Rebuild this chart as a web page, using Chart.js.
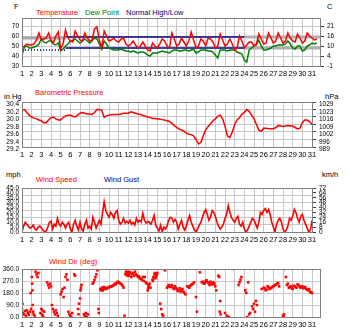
<!DOCTYPE html>
<html>
<head>
<meta charset="utf-8">
<script src="https://cdn.jsdelivr.net/npm/chart.js@4"></script>
<style>
  body { margin: 0; background: #fff; width: 350px; height: 336px; position: relative; overflow: hidden;
         font-family: "Liberation Sans", Arial, sans-serif; }
  canvas { position: absolute; left: 0; }
  .t { position: absolute; font-size: 7.5px; line-height: 8px; white-space: nowrap; }
</style>
</head>
<body>
<div class="t" style="left:14px;top:3px">F</div>
<div class="t" style="left:36px;top:9px;color:#ff0000">Temperature</div>
<div class="t" style="left:85px;top:9px;color:#008000">Dew Point</div>
<div class="t" style="left:126px;top:9px;color:#000080">Normal High/Low</div>
<div class="t" style="left:327px;top:3px">C</div>
<canvas id="temp" width="350" height="80" style="top:0px"></canvas>

<div class="t" style="left:35px;top:89px;color:#ff0000">Barometric Pressure</div>
<div class="t" style="left:4px;top:93px">in Hg</div>
<div class="t" style="left:325px;top:93px">hPa</div>
<canvas id="baro" width="350" height="77" style="top:84px"></canvas>

<div class="t" style="left:6px;top:171px">mph</div>
<div class="t" style="left:36px;top:176px;color:#ff0000">Wind Speed</div>
<div class="t" style="left:104px;top:176px;color:#000080">Wind Gust</div>
<div class="t" style="left:322px;top:171px">km/h</div>
<canvas id="wind" width="350" height="76" style="top:170px"></canvas>

<div class="t" style="left:49px;top:258px;color:#ff0000">Wind Dir (deg)</div>
<canvas id="dir" width="350" height="80" style="top:251px"></canvas>

<script>
const days = [1, 2, 3, 4, 5, 6, 7, 8, 9, 10, 11, 12, 13, 14, 15, 16, 17, 18, 19, 20,
  21, 22, 23, 24, 25, 26, 27, 28, 29, 30, 31];

const tempTicks = [30, 40, 50, 60, 70];
const pressureTicks = [29.2, 29.4, 29.6, 29.8, 30.0, 30.2, 30.4];
const windTicks = [0, 5, 10, 15, 20, 25, 30, 35, 40, 45];
const windGrid = [7.5, 15, 22.5, 30, 37.5];
const dirTicks = [0, 90, 180, 270, 360];

// temperature and dew point, every 6 hours (F)
const tempF = [48, 50, 52, 51, 51, 52, 56, 63, 56, 57, 58, 63, 56, 53, 60, 64, 47, 52, 66, 58,
  55, 54, 65, 60, 56, 55, 63, 58, 55, 56, 67, 69, 56, 48, 65, 60, 55, 56, 58, 55,
  54, 57, 58, 52, 50, 52, 55, 51, 48, 50, 54, 50, 46, 45, 53, 50, 48, 52, 57, 55,
  50, 48, 63, 57, 50, 52, 58, 54, 50, 55, 64, 56, 48, 50, 57, 55, 50, 58, 57, 54,
  48, 50, 62, 56, 50, 52, 57, 52, 46, 48, 60, 55, 48, 51, 54, 54, 50, 52, 62, 57,
  52, 53, 63, 58, 53, 55, 63, 58, 53, 55, 63, 58, 55, 54, 62, 58, 53, 55, 63, 60,
  58, 56, 57];
const dewF = [41, 49, 50, 48, 48, 49, 50, 52, 57, 54, 53, 55, 55, 52, 51, 53, 45, 47, 50, 52,
  55, 55, 57, 55, 53, 55, 57, 55, 53, 55, 58, 57, 52, 47, 55, 52, 48, 47, 46, 46,
  46, 47, 46, 45, 45, 44, 45, 44, 43, 44, 44, 43, 41, 40, 43, 43, 43, 44, 45, 44,
  44, 43, 45, 46, 46, 45, 45, 46, 46, 45, 46, 47, 43, 44, 46, 46, 46, 45, 45, 44,
  41, 38, 46, 46, 46, 45, 46, 46, 46, 44, 43, 42, 36, 34, 46, 48, 50, 51, 56, 50,
  46, 46, 47, 48, 50, 50, 51, 51, 51, 52, 55, 52, 48, 47, 50, 50, 45, 46, 50, 51,
  53, 52, 53];

// normal high/low, piecewise between these days
const normalBreaks = [1, 5.5, 24, 31.93];
const normalHigh = [58, 59, 59];
const normalLow = [46, 48, 48];

// barometer, every 6 hours (in Hg)
const pressureInHg = [30.18, 30.20, 30.12, 30.05, 30.00, 29.97, 29.95, 29.92, 29.90, 29.85, 29.85, 29.92,
  29.98, 30.00, 29.95, 29.92, 29.92, 29.98, 30.03, 30.05, 30.05, 30.02, 30.00, 30.05,
  30.10, 30.12, 30.10, 30.08, 30.08, 30.07, 30.12, 30.20, 30.20, 30.18, 29.99, 30.03,
  30.05, 30.06, 30.07, 30.07, 30.07, 30.08, 30.10, 30.10, 30.10, 30.14, 30.12, 30.10,
  30.08, 30.07, 30.04, 30.02, 30.00, 29.99, 29.96, 29.96, 29.95, 29.95, 29.93, 29.92,
  29.90, 29.88, 29.83, 29.77, 29.72, 29.68, 29.65, 29.62, 29.57, 29.54, 29.53, 29.50,
  29.40, 29.28, 29.32, 29.50, 29.65, 29.75, 29.82, 29.90, 29.95, 30.02, 30.05, 29.95,
  29.75, 29.50, 29.45, 29.60, 29.80, 29.93, 29.98, 30.08, 30.12, 30.20, 30.15, 30.05,
  29.95, 29.80, 29.65, 29.62, 29.70, 29.70, 29.69, 29.69, 29.69, 29.72, 29.77, 29.76,
  29.75, 29.76, 29.77, 29.76, 29.76, 29.72, 29.68, 29.70, 29.85, 29.92, 29.92, 29.88,
  29.80];

// wind speed, every 4 hours (mph)
const windMph = [0, 6, 10, 8, 6, 4, 5, 7, 3, 2, 5, 6, 4, 2, 0, 1, 5, 10, 11, 3, 8, 6, 14, 8,
  6, 10, 8, 4, 8, 10, 3, 0, 8, 12, 6, 2, 10, 3, 1, 8, 12, 4, 6, 3, 15, 10, 4, 8,
  12, 8, 20, 31, 22, 18, 15, 20, 18, 14, 20, 22, 12, 8, 10, 14, 9, 11, 9, 12, 8, 10, 7, 14,
  10, 12, 10, 19, 12, 9, 11, 10, 8, 12, 17, 7, 4, 1, 7, 0, 5, 3, 6, 12, 15, 14, 10, 13,
  10, 3, 8, 12, 5, 2, 6, 12, 17, 10, 6, 2, 0, 3, 7, 10, 15, 20, 23, 18, 12, 15, 22, 20,
  16, 10, 6, 3, 5, 8, 14, 18, 27, 20, 15, 12, 10, 14, 16, 8, 6, 10, 3, 0, 2, 6, 10, 14,
  12, 8, 4, 10, 20, 18, 22, 24, 20, 23, 18, 10, 5, 0, 8, 12, 14, 10, 3, 0, 2, 6, 14, 12,
  16, 23, 20, 14, 10, 16, 18, 12, 8, 4, 0, 2, 12];

// wind direction readings (day, degrees)
const dirDays = [1.0, 1.05, 1.1, 1.2, 1.3, 1.4, 1.5, 1.6, 1.7, 1.8, 1.9, 1.95,
  2.0, 2.02, 2.05, 2.08, 2.1, 2.15, 2.2, 2.3, 2.4, 2.5, 2.6, 2.7,
  2.9, 3.0, 3.05, 3.1, 3.15, 3.2, 3.3, 3.6, 3.7, 3.8, 3.9, 4.0,
  4.1, 4.2, 4.3, 4.4, 4.5, 4.6, 4.7, 5.0, 5.1, 5.2, 5.3, 5.4, 5.5, 5.6, 5.7,
  5.8, 5.9, 6.0, 6.1, 6.2, 6.4, 6.5, 6.8, 6.85, 6.9, 7.0, 7.05, 7.1, 7.15,
  7.4, 7.5, 7.6, 7.7, 7.8, 8.3, 8.4, 8.5, 8.6, 8.7, 8.8, 8.9, 8.95,
  9.1, 9.2, 9.3, 9.4, 9.5, 9.6, 9.8, 10.0, 10.2, 10.4, 10.6, 10.8, 11.0, 11.2, 11.4, 11.5, 11.6,
  11.7, 11.8, 11.9, 12.0, 12.1, 12.3, 12.5, 12.6, 12.8, 13.0, 13.2, 13.4, 13.6, 13.7, 13.8, 13.9,
  14.0, 14.1, 14.2, 14.3, 14.5, 14.6, 14.7, 14.8, 14.9, 15.0,
  15.3, 15.4, 15.5, 15.6, 15.7, 15.8, 16.0, 16.2, 16.4, 16.6, 16.8, 17.0, 17.2, 17.4, 17.6, 17.8, 17.9,
  18.1, 18.3, 18.5, 18.7, 18.8, 19.0, 19.1, 19.4, 19.6, 19.8, 20.0, 20.2, 20.4, 20.6, 20.8, 21.0, 21.1,
  21.3, 21.4, 21.5, 21.45, 21.55, 22.0, 22.2, 22.4, 22.8, 23.4, 23.5, 23.6, 23.7,
  24.1, 24.2, 24.4, 24.3, 24.5, 24.6, 24.8, 24.9, 25.0, 25.1, 25.2, 25.3,
  25.8, 26.0, 26.2, 26.4, 26.6, 26.8, 27.0, 27.2, 27.4, 27.6, 28.0, 28.05, 28.1, 28.15,
  28.3, 28.4, 28.6, 28.8, 29.0, 29.2, 29.4, 29.6, 29.8, 30.0, 30.2, 30.4, 30.6, 30.8, 31.0,
  9.15, 9.25, 9.35, 9.45, 9.55, 9.7, 9.9, 10.1, 10.3, 10.5, 10.7, 10.9, 11.1, 11.3,
  11.75, 11.85, 11.95, 12.05, 12.2, 12.4, 12.7, 12.9, 13.1, 13.3, 13.5,
  14.05, 14.15, 14.55, 14.65, 14.75, 14.85, 14.95,
  16.1, 16.3, 16.5, 16.7, 16.9, 17.1, 17.3, 17.5, 17.7, 18.2, 18.4, 18.6,
  19.7, 19.9, 20.1, 20.3, 20.5, 20.7, 20.9,
  26.1, 26.3, 26.5, 26.7, 26.9, 27.1, 27.3, 27.5,
  28.5, 28.7, 28.9, 29.1, 29.3, 29.5, 29.7, 29.9, 30.1, 30.3, 30.5, 30.7, 30.9];
const dirDegrees = [60, 100, 30, 20, 45, 10, 50, 30, 15, 40, 180, 60,
  360, 300, 250, 200, 90, 40, 20, 10, 340, 320, 300, 330,
  30, 60, 20, 50, 10, 0, 40, 260, 240, 220, 250, 230,
  90, 60, 40, 20, 50, 30, 10, 170, 190, 210, 150, 220, 300, 320, 280,
  40, 20, 10, 0, 30, 320, 310, 60, 20, 100, 140, 200, 220, 240,
  20, 10, 30, 0, 20, 250, 260, 280, 300, 320, 350, 60, 30,
  210, 200, 220, 215, 210, 220, 215, 225, 230, 235, 250, 255, 260, 250, 235, 220, 10,
  320, 330, 310, 340, 320, 300, 330, 310, 320, 300, 290, 280, 270, 300, 260, 250,
  200, 230, 250, 220, 280, 300, 320, 290, 310, 330,
  100, 60, 20, 10, 360, 350, 220, 240, 230, 220, 230, 210, 200, 190, 210, 180, 170,
  230, 220, 240, 250, 260, 150, 40, 335, 260, 250, 270, 260, 240, 250, 260, 230, 200,
  310, 300, 120, 40, 20, 30, 10, 0, 360, 240, 260, 280, 300,
  200, 180, 260, 0, 20, 30, 80, 60, 100, 40, 120, 90,
  210, 220, 200, 230, 210, 220, 230, 240, 250, 230, 10, 0, 20, 360,
  300, 240, 220, 230, 210, 230, 220, 240, 220, 230, 220, 210, 200, 190, 180,
  205, 215, 200, 225, 215, 210, 220, 225, 230, 240, 245, 265, 255, 245,
  340, 315, 325, 310, 335, 320, 340, 310, 305, 285, 300,
  215, 240, 270, 295, 330, 300, 320,
  230, 225, 240, 210, 220, 195, 215, 200, 190, 225, 235, 245,
  265, 255, 275, 255, 265, 245, 250,
  215, 205, 225, 215, 225, 235, 245, 255,
  250, 225, 215, 235, 225, 245, 230, 225, 215, 225, 205, 210, 185];

const tickFont = { family: 'Liberation Sans, Arial, sans-serif', size: 7.5 };
const valueFont = { family: 'Liberation Sans, Arial, sans-serif', size: 6.5 };
const gridColor = '#c8c8c8';

const frame = {
  id: 'frame',
  afterDraw(chart) {
    const a = chart.chartArea;
    const ctx = chart.ctx;
    ctx.save();
    ctx.strokeStyle = '#808080';
    ctx.lineWidth = 1;
    ctx.strokeRect(a.left + 0.5, a.top + 0.5, a.right - a.left - 1, a.bottom - a.top);
    ctx.restore();
  }
};

function dayAxis(max) {
  return {
    type: 'linear', min: 1, max: max,
    afterBuildTicks: axis => { axis.ticks = days.map(d => ({ value: d })); },
    afterFit: axis => { axis.height = 14; },
    ticks: { font: tickFont, color: '#000', padding: 3, maxRotation: 0, autoSkip: false },
    grid: { color: gridColor, drawTicks: false },
    border: { display: false }
  };
}

function leftAxis(ticks, min, max, fmt, showGrid, shift) {
  return {
    position: 'left', min: min, max: max,
    afterBuildTicks: axis => { axis.ticks = ticks.map(v => ({ value: v })); },
    afterFit: axis => { axis.width = 22; },
    ticks: { font: valueFont, color: '#000', padding: 3, autoSkip: false, callback: fmt, labelOffset: shift || 0 },
    grid: { display: showGrid, color: gridColor, drawTicks: false },
    border: { display: false }
  };
}

function rightAxis(ticks, min, max, fmt, width, shift) {
  return {
    position: 'right', min: min, max: max,
    afterBuildTicks: axis => { axis.ticks = ticks.map(v => ({ value: v })); },
    afterFit: axis => { axis.width = width; },
    ticks: { display: fmt !== null, font: valueFont, color: '#000', padding: 3, autoSkip: false,
             callback: fmt, labelOffset: shift || 0 },
    grid: { drawOnChartArea: false, color: '#404040', tickLength: 3 },
    border: { display: false }
  };
}

function baseOptions(scales) {
  return {
    responsive: false,
    animation: false,
    devicePixelRatio: 1,
    layout: { padding: { top: 18, left: 0, right: 0, bottom: 0 } },
    plugins: { legend: { display: false }, tooltip: { enabled: false } },
    scales: scales
  };
}

function line(values, step, color, width) {
  return {
    data: values.map((v, i) => ({ x: 1 + i / step, y: v })),
    borderColor: color, borderWidth: width, pointRadius: 0, tension: 0, fill: false
  };
}

// temperature panel
const normalSets = [];
const normalColors = ['#a8a8a8', '#000080', '#b0b0b0'];
const normalWidths = [3, 1.5, 3];
for (let i = 0; i < normalHigh.length; i++) {
  normalSets.push({
    data: [{ x: normalBreaks[i], y: normalHigh[i] }, { x: normalBreaks[i + 1], y: normalHigh[i] }],
    borderColor: normalColors[i], borderWidth: normalWidths[i], pointRadius: 0, order: 3
  });
  normalSets.push({
    data: [{ x: normalBreaks[i], y: normalLow[i] }, { x: normalBreaks[i + 1], y: normalLow[i] }],
    borderColor: i === 0 ? '#000080' : normalColors[i], borderWidth: i === 0 ? 1.5 : normalWidths[i],
    borderDash: i === 0 ? [1, 2] : [], pointRadius: 0, order: 3
  });
}

new Chart('temp', {
  type: 'line',
  data: {
    datasets: normalSets.concat([
      Object.assign(line(dewF, 4, '#008000', 1.5), { order: 2 }),
      Object.assign(line(tempF, 4, '#ff0000', 1.5), { order: 1 })
    ])
  },
  options: baseOptions({
    x: dayAxis(31.93),
    y: leftAxis(tempTicks, 30, 78, v => v, true),
    yc: rightAxis(tempTicks, 30, 78, v => Math.round((v - 32) * 5 / 9), 29)
  }),
  plugins: [frame]
});

// barometer panel
new Chart('baro', {
  type: 'line',
  data: { datasets: [line(pressureInHg, 4, '#ff0000', 1.5)] },
  options: baseOptions({
    x: dayAxis(31.1),
    y: leftAxis(pressureTicks, 29.2, 30.4, v => v.toFixed(1), true, 2.5),
    yh: rightAxis(pressureTicks, 29.2, 30.4, v => Math.round(v * 33.8639), 37, 2.5)
  }),
  plugins: [frame]
});

// wind speed panel
const windOpts = baseOptions({
  x: dayAxis(31.1),
  y: leftAxis(windTicks, 0, 45, v => v.toFixed(1), false),
  yk: rightAxis(windTicks, 0, 45, v => Math.round(v * 1.609344), 37),
  yg: {
    position: 'left', min: 0, max: 45,
    afterBuildTicks: axis => { axis.ticks = windGrid.map(v => ({ value: v })); },
    afterFit: axis => { axis.width = 0; },
    ticks: { display: false },
    grid: { color: gridColor, drawTicks: false },
    border: { display: false }
  }
});
new Chart('wind', {
  type: 'line',
  data: { datasets: [line(windMph, 6, '#ff0000', 1.6)] },
  options: windOpts,
  plugins: [frame]
});

// wind direction panel
new Chart('dir', {
  type: 'scatter',
  data: {
    datasets: [{
      data: dirDays.map((d, i) => ({ x: d, y: dirDegrees[i] })),
      backgroundColor: '#ff0000', borderWidth: 0, pointStyle: 'rect', pointRadius: 1.8
    }]
  },
  options: baseOptions({
    x: dayAxis(31.93),
    y: leftAxis(dirTicks, 0, 360, v => v.toFixed(1), true),
    yr: rightAxis(dirTicks, 0, 360, null, 29)
  }),
  plugins: [frame]
});
</script>
</body>
</html>
